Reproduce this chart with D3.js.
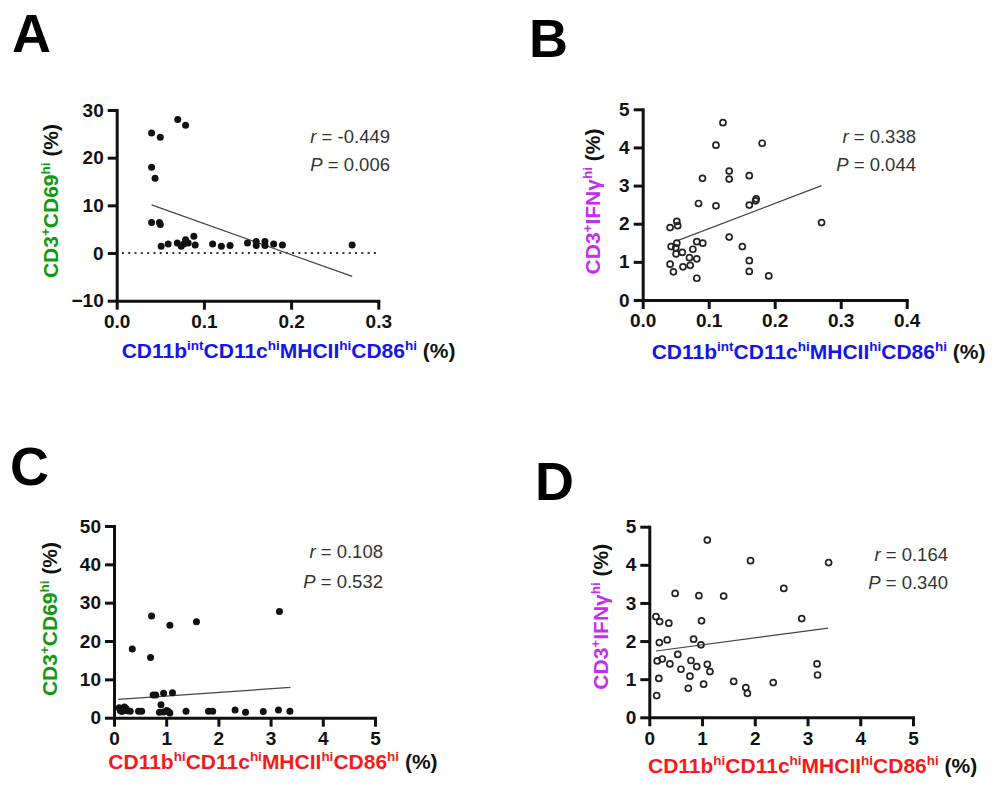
<!DOCTYPE html>
<html>
<head>
<meta charset="utf-8">
<script src="https://cdn.jsdelivr.net/npm/d3@7"></script>
<style>
  body { margin: 0; background: #fff; }
  svg { font-family: "Liberation Sans", Arial, sans-serif; }
</style>
</head>
<body>
<div id="chart"></div>
<script>
// ---- datos ----
// A: CD11b int DC vs CD3+CD69hi
const aX = [0.040, 0.050, 0.070, 0.079, 0.040, 0.044, 0.040, 0.049, 0.050, 0.051, 0.059, 0.0695, 0.074, 0.077, 0.079, 0.082, 0.0885, 0.090, 0.110, 0.120, 0.130, 0.150, 0.160, 0.160, 0.170, 0.170, 0.180, 0.190, 0.270];
const aY = [25.2, 24.3, 28.0, 26.8, 18.0, 15.7, 6.4, 6.4, 6.0, 1.4, 1.9, 2.1, 1.4, 1.9, 2.8, 2.1, 3.5, 1.7, 1.9, 1.4, 1.6, 2.1, 2.4, 1.6, 2.4, 1.6, 1.9, 1.7, 1.7];
const aFitX = [0.04, 0.27];
const aFitY = [10.1, -4.9];

// B: CD11b int DC vs CD3+IFNghi
const bX = [0.1216, 0.111, 0.181, 0.131, 0.131, 0.0906, 0.1615, 0.0846, 0.111, 0.1615, 0.171, 0.172, 0.271, 0.0415, 0.0517, 0.053, 0.043, 0.0517, 0.050, 0.0506, 0.060, 0.0415, 0.0465, 0.061, 0.072, 0.0708, 0.076, 0.082, 0.091, 0.082, 0.082, 0.131, 0.151, 0.1615, 0.1615, 0.191];
const bY = [4.65, 4.06, 4.11, 3.38, 3.17, 3.19, 3.26, 2.53, 2.47, 2.49, 2.60, 2.65, 2.03, 1.90, 2.06, 1.95, 1.40, 1.49, 1.37, 1.21, 1.25, 0.94, 0.74, 0.87, 0.91, 1.11, 1.33, 1.53, 1.49, 1.08, 0.57, 1.65, 1.40, 1.03, 0.75, 0.63];
const bFitX = [0.0517, 0.271];
const bFitY = [1.55, 3.0];

// C: CD11b hi DC vs CD3+CD69hi
const cX = [0.72, 1.07, 1.58, 3.17, 0.35, 0.70, 0.75, 0.80, 0.95, 1.12, 0.90, 0.87, 0.95, 1.01, 1.07, 1.04, 0.10, 0.13, 0.15, 0.18, 0.20, 0.23, 0.25, 0.12, 0.31, 0.47, 0.53, 1.38, 1.81, 1.89, 2.32, 2.52, 2.86, 3.15, 3.37];
const cY = [26.5, 24.1, 25.0, 27.7, 17.9, 15.7, 5.9, 5.9, 6.4, 6.5, 3.4, 1.4, 1.5, 1.9, 1.2, 1.6, 2.6, 2.2, 1.6, 2.0, 2.8, 2.4, 1.8, 1.9, 1.7, 1.7, 1.7, 1.7, 1.7, 1.7, 2.0, 1.4, 1.6, 2.0, 1.7];
const cFitX = [0.08, 3.38];
const cFitY = [4.8, 7.9];

// D: CD11b hi DC vs CD3+IFNghi
const dX = [1.10, 1.92, 3.40, 2.55, 0.49, 0.94, 1.41, 2.89, 0.126, 0.196, 0.37, 0.99, 0.19, 0.34, 0.84, 0.98, 0.54, 0.15, 0.246, 0.39, 0.79, 0.90, 1.10, 1.15, 0.60, 0.77, 0.18, 0.74, 1.03, 0.14, 1.60, 1.83, 1.86, 2.35, 3.18, 3.19];
const dY = [4.65, 4.11, 4.06, 3.38, 3.25, 3.19, 3.18, 2.59, 2.64, 2.51, 2.47, 2.53, 1.96, 2.03, 2.05, 1.90, 1.65, 1.48, 1.53, 1.40, 1.49, 1.33, 1.39, 1.20, 1.26, 1.08, 1.02, 0.76, 0.87, 0.57, 0.94, 0.78, 0.63, 0.91, 1.40, 1.11];
const dFitX = [0.126, 3.39];
const dFitY = [1.74, 2.34];

// ticks y estadisticos
const ticksA = { x: [0, 0.1, 0.2, 0.3], y: [-10, 0, 10, 20, 30] };
const ticksB = { x: [0, 0.1, 0.2, 0.3, 0.4], y: [0, 1, 2, 3, 4, 5] };
const ticksC = { x: [0, 1, 2, 3, 4, 5], y: [0, 10, 20, 30, 40, 50] };
const ticksD = { x: [0, 1, 2, 3, 4, 5], y: [0, 1, 2, 3, 4, 5] };
const statR = ['-0.449', '0.338', '0.108', '0.164'];
const statP = ['0.006', '0.044', '0.532', '0.340'];
const letters = ['A', 'B', 'C', 'D'];

// colores
const GREEN = '#119a11', MAGENTA = '#c62cf2', BLUE = '#1414ee', RED = '#f51a1a';

const WIDTH = 1003, HEIGHT = 789;
const svg = d3.select('#chart').append('svg')
  .attr('width', WIDTH)
  .attr('height', HEIGHT);

const labelCD69 = c => [['CD3', 0, c], ['+', 1, c], ['CD69', 0, c], ['hi', 1, c], [' (%)', 0, '#111']];
const labelIFN = c => [['CD3', 0, c], ['+', 1, c], ['IFN\u03b3', 0, c], ['hi', 1, c], [' (%)', 0, '#111']];
const labelDC = (c, first) => [['CD11b', 0, c], [first, 1, c], ['CD11c', 0, c], ['hi', 1, c], ['MHCII', 0, c], ['hi', 1, c], ['CD86', 0, c], ['hi', 1, c], [' (%)', 0, '#111']];

// posiciones de cada panel
const panels = [
  { xs: aX, ys: aY, fx: aFitX, fy: aFitY, ticks: ticksA, xDom: [0, 0.3], yDom: [-10, 30], fmtX: d3.format('.1f'),
    box: { l: 116.7, r: 378.3, t: 110, b: 300.7 }, letter: [12, 52], stat: [390, 143, 171],
    yLab: [58, 201], xLab: [121.7, 358], open: false, zero: true,
    yText: labelCD69(GREEN), xText: labelDC(BLUE, 'int') },
  { xs: bX, ys: bY, fx: bFitX, fy: bFitY, ticks: ticksB, xDom: [0, 0.4], yDom: [0, 5], fmtX: d3.format('.1f'),
    box: { l: 642.7, r: 906.7, t: 109.3, b: 300 }, letter: [529, 57], stat: [916, 142.7, 171],
    yLab: [599.5, 201.5], xLab: [651.7, 359.3], open: true, zero: false,
    yText: labelIFN(MAGENTA), xText: labelDC(BLUE, 'int') },
  { xs: cX, ys: cY, fx: cFitX, fy: cFitY, ticks: ticksC, xDom: [0, 5], yDom: [0, 50], fmtX: d3.format('d'),
    box: { l: 114, r: 375, t: 526, b: 717.7 }, letter: [10, 485], stat: [383, 558, 588],
    yLab: [56.7, 619], xLab: [108.3, 769.3], open: false, zero: false,
    yText: labelCD69(GREEN), xText: labelDC(RED, 'hi') },
  { xs: dX, ys: dY, fx: dFitX, fy: dFitY, ticks: ticksD, xDom: [0, 5], yDom: [0, 5], fmtX: d3.format('d'),
    box: { l: 649.3, r: 913, t: 526.7, b: 717.3 }, letter: [535, 500], stat: [948, 560.7, 589],
    yLab: [608.3, 616.7], xLab: [648, 773], open: true, zero: false,
    yText: labelIFN(MAGENTA), xText: labelDC(RED, 'hi') }
];

// texto con superindices
const richText = (sel, parts) => {
  let shift = 0;
  parts.forEach(([t, sup, color]) => {
    const want = sup ? -8 : 0;
    sel.append('tspan')
      .attr('dy', want - shift)
      .style('font-size', sup ? '13.5px' : '21px')
      .style('fill', color)
      .text(t);
    shift = want;
  });
};

panels.forEach((p, k) => {
  const x = d3.scaleLinear().domain(p.xDom).range([p.box.l, p.box.r]);
  const y = d3.scaleLinear().domain(p.yDom).range([p.box.b, p.box.t]);
  const g = svg.append('g');

  // letra del panel
  g.append('text')
    .attr('x', p.letter[0])
    .attr('y', p.letter[1])
    .style('font-size', '54px')
    .style('font-weight', 'bold')
    .text(letters[k]);

  // ejes
  const xAxis = g.append('g')
    .attr('transform', `translate(0, ${p.box.b})`)
    .call(d3.axisBottom(x).tickValues(p.ticks.x).tickFormat(p.fmtX).tickSize(9).tickSizeOuter(0).tickPadding(5));
  const yAxis = g.append('g')
    .attr('transform', `translate(${p.box.l}, 0)`)
    .call(d3.axisLeft(y).tickValues(p.ticks.y).tickFormat(d3.format('d')).tickSize(9).tickSizeOuter(0).tickPadding(4));

  [xAxis, yAxis].forEach(ax => {
    ax.select('.domain').style('stroke', '#111').style('stroke-width', 3).style('stroke-linecap', 'square');
    ax.selectAll('.tick line').style('stroke', '#111').style('stroke-width', 3);
    ax.selectAll('.tick text')
      .style('font-family', '"Liberation Sans", Arial, sans-serif')
      .style('font-size', '19px')
      .style('font-weight', 'bold')
      .style('fill', '#111');
  });

  // linea punteada en cero
  if (p.zero) {
    g.append('line')
      .attr('x1', x(0.006))
      .attr('x2', x(0.3))
      .attr('y1', y(0))
      .attr('y2', y(0))
      .style('stroke', '#333')
      .style('stroke-width', 2)
      .style('stroke-dasharray', '2,4.3');
  }

  // recta de regresion
  g.append('line')
    .attr('x1', x(p.fx[0]))
    .attr('y1', y(p.fy[0]))
    .attr('x2', x(p.fx[1]))
    .attr('y2', y(p.fy[1]))
    .style('stroke', '#444')
    .style('stroke-width', 1.2);

  // puntos
  g.selectAll('.dot')
    .data(d3.range(p.xs.length))
    .enter()
    .append('circle')
    .attr('class', 'dot')
    .attr('cx', i => x(p.xs[i]))
    .attr('cy', i => y(p.ys[i]))
    .attr('r', p.open ? 3 : 3.5)
    .style('fill', p.open ? 'none' : '#111')
    .style('stroke', p.open ? '#222' : 'none')
    .style('stroke-width', 1.7);

  // r y P
  [['r', statR[k], p.stat[1]], ['P', statP[k], p.stat[2]]].forEach(([sym, val, yy]) => {
    const t = g.append('text')
      .attr('x', p.stat[0])
      .attr('y', yy)
      .attr('text-anchor', 'end')
      .style('font-size', '18.5px')
      .style('fill', '#333')
      .style('white-space', 'pre');
    t.append('tspan').style('font-style', 'italic').text(sym);
    t.append('tspan').text(` = ${val}`);
  });

  // titulos de ejes
  const yt = g.append('text')
    .attr('transform', `translate(${p.yLab[0]}, ${p.yLab[1]}) rotate(-90)`)
    .attr('text-anchor', 'middle')
    .style('font-weight', 'bold')
    .style('white-space', 'pre');
  richText(yt, p.yText);

  const xt = g.append('text')
    .attr('x', p.xLab[0])
    .attr('y', p.xLab[1])
    .style('font-weight', 'bold')
    .style('white-space', 'pre');
  richText(xt, p.xText);
});
</script>
</body>
</html>
